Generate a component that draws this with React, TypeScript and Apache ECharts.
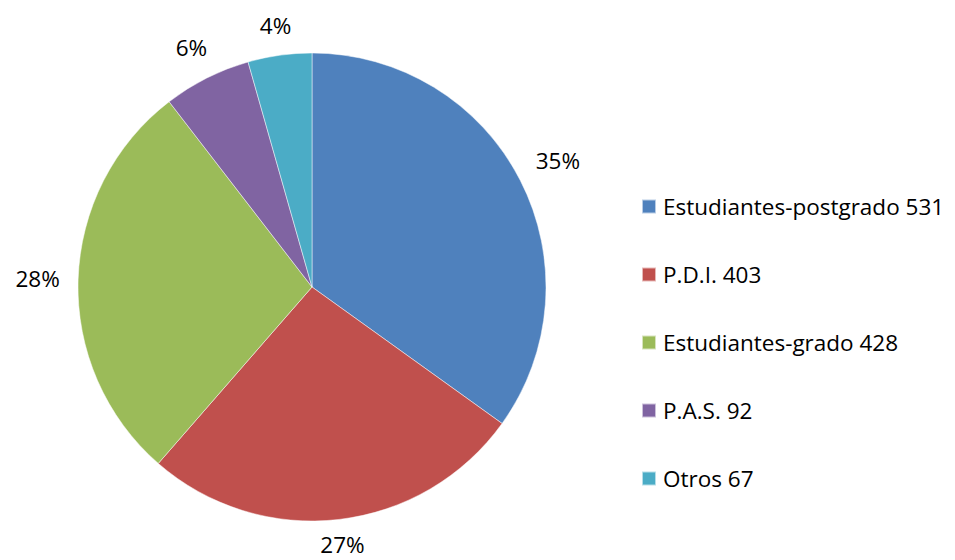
import React, { useEffect, useRef } from "react";
import * as echarts from "echarts";

const categories = ["Estudiantes-postgrado", "P.D.I.", "Estudiantes-grado", "P.A.S.", "Otros"];
const values = [531, 403, 428, 92, 67];
const colors = ["#4F81BD", "#C0504D", "#9BBB59", "#8064A2", "#4BACC6"];

const FONT = "Open Sans";
const FS = 22.5;
const CX = 312;
const CY = 287;
const R = 234;
const GAP = 18;
const H = 560;

export default function App() {
  const ref = useRef<HTMLDivElement>(null);
  useEffect(() => {
    if (!ref.current) return;
    const chart = echarts.init(ref.current, null, { renderer: "svg" });
    const total = values.reduce((a, b) => a + b, 0);
    const mids: number[] = [];
    let acc = 0;
    values.forEach((v) => {
      mids.push(((acc + v / 2) / total) * Math.PI * 2);
      acc += v;
    });
    const data = categories.map((c, i) => ({
      name: c + " " + values[i],
      value: values[i],
      itemStyle: { color: colors[i] },
    }));
    chart.setOption({
      animation: false,
      backgroundColor: "#ffffff",
      legend: {
        orient: "vertical",
        left: 641,
        top: 195,
        padding: 0,
        itemWidth: 14,
        itemHeight: 14,
        itemGap: 45,
        icon: "rect",
        textStyle: { fontFamily: FONT, fontSize: FS, color: "#000", lineHeight: 22, padding: [0, 0, 0, 2] },
        data: data.map((d) => d.name),
      },
      series: [
        {
          type: "pie",
          center: [CX, CY],
          radius: R,
          startAngle: 90,
          clockwise: true,
          data,
          itemStyle: { borderColor: "rgba(255,255,255,0.6)", borderWidth: 0.8 },
          label: {
            show: true,
            position: "outside",
            overflow: "none",
            formatter: (p: any) => Math.round(p.percent) + "%",
            fontFamily: FONT,
            fontSize: FS,
            lineHeight: 20,
            color: "#000",
          },
          labelLine: { show: false, length: 10, length2: 0 },
          labelLayout: (params: any) => {
            const a = mids[params.dataIndex];
            const dx = Math.sin(a);
            const dy = -Math.cos(a);
            const w = params.labelRect.width;
            const h = 20;
            const ext = (w / 2) * Math.abs(dx) + (h / 2) * Math.abs(dy);
            const d = R + GAP + ext;
            return {
              x: CX + d * dx,
              y: Math.min(CY + d * dy, H - 16),
              align: "center",
              verticalAlign: "middle",
            };
          },
        },
      ],
    });
    return () => chart.dispose();
  }, []);
  return <div ref={ref} style={{ width: 955, height: 560, position: "absolute", left: 0, top: 0 }} />;
}
